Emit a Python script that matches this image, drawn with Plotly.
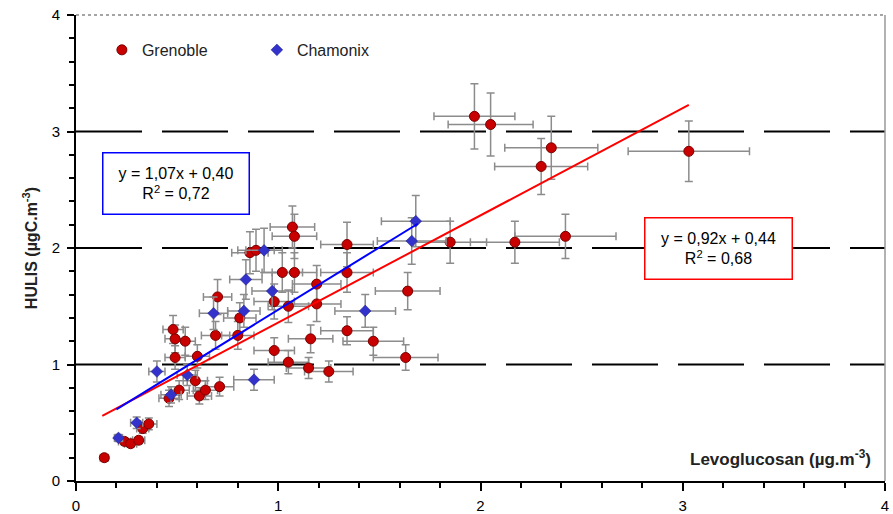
import plotly.graph_objects as go

# ---------------- data ----------------
gren_x = [0.14, 0.24, 0.27, 0.31, 0.33, 0.36, 0.46, 0.51, 0.61, 0.64,
          0.71, 0.59, 0.60, 0.49, 0.48, 0.49, 0.54, 0.69, 0.80, 0.81,
          0.70, 0.86, 0.89, 0.98, 1.02, 1.08, 1.05, 1.07, 1.08, 1.19,
          1.19, 1.34, 1.34, 0.98, 1.05, 1.15, 1.25, 1.16, 1.34, 1.47,
          1.63, 1.64, 1.85, 2.17, 2.42, 1.97, 2.05, 2.35, 2.30, 3.03]
gren_y = [0.20, 0.34, 0.32, 0.35, 0.45, 0.49, 0.71, 0.78, 0.73, 0.78,
          0.81, 0.86, 1.07, 1.06, 1.30, 1.22, 1.20, 1.25, 1.25, 1.40,
          1.58, 1.96, 1.98, 1.54, 1.79, 1.79, 1.50, 2.18, 2.10, 1.69,
          1.52, 2.03, 1.79, 1.12, 1.02, 0.97, 0.94, 1.22, 1.29, 1.20,
          1.06, 1.63, 2.05, 2.05, 2.10, 3.13, 3.06, 2.86, 2.70, 2.83]
gren_ex = [0.02, 0.03, 0.03, 0.03, 0.03, 0.04, 0.05, 0.05, 0.06, 0.06,
           0.07, 0.06, 0.06, 0.05, 0.05, 0.05, 0.05, 0.07, 0.08, 0.08,
           0.07, 0.09, 0.09, 0.10, 0.10, 0.11, 0.10, 0.11, 0.11, 0.12,
           0.12, 0.13, 0.13, 0.10, 0.10, 0.11, 0.12, 0.11, 0.13, 0.15,
           0.16, 0.16, 0.18, 0.22, 0.25, 0.20, 0.21, 0.23, 0.23, 0.30]
gren_ey = [0.02, 0.03, 0.03, 0.03, 0.04, 0.05, 0.07, 0.08, 0.07, 0.08,
           0.08, 0.09, 0.10, 0.10, 0.12, 0.12, 0.12, 0.12, 0.12, 0.13,
           0.15, 0.18, 0.18, 0.15, 0.17, 0.17, 0.14, 0.18, 0.19, 0.16,
           0.15, 0.19, 0.17, 0.11, 0.10, 0.09, 0.09, 0.12, 0.12, 0.12,
           0.11, 0.16, 0.18, 0.18, 0.19, 0.28, 0.27, 0.27, 0.24, 0.26]

cham_x = [0.21, 0.30, 0.40, 0.47, 0.55, 0.68, 0.83, 0.88, 0.84, 0.93,
          0.97, 1.43, 1.66, 1.68]
cham_y = [0.37, 0.50, 0.94, 0.74, 0.91, 1.44, 1.46, 0.87, 1.73, 1.98,
          1.63, 1.46, 2.06, 2.23]
cham_ex = [0.02, 0.03, 0.04, 0.05, 0.05, 0.07, 0.08, 0.10, 0.08, 0.09,
           0.10, 0.15, 0.17, 0.17]
cham_ey = [0.03, 0.05, 0.09, 0.07, 0.09, 0.14, 0.14, 0.09, 0.17, 0.19,
           0.16, 0.14, 0.20, 0.22]

# regression fits (slope, intercept) and x extent of each fitted line
fit_gren = (0.92, 0.44)
fit_gren_x = [0.13, 3.03]
fit_cham = (1.07, 0.40)
fit_cham_x = [0.20, 1.69]

eq_gren = "y = 0,92x + 0,44<br>R<sup>2</sup> = 0,68"
eq_cham = "y = 1,07x + 0,40<br>R<sup>2</sup> = 0,72"

major_ticks = [0, 1, 2, 3, 4]
grid_levels = [1, 2, 3]

FONT = "Liberation Sans, Arial, sans-serif"
RED = "#C80000"
BLUE = "#3333CC"
ERR = "#8C8C8C"

fig = go.Figure()

fig.add_trace(go.Scatter(
    x=gren_x, y=gren_y, mode="markers", name="Grenoble",
    marker=dict(color=RED, size=10, symbol="circle",
                line=dict(color="#7A0000", width=1)),
    error_x=dict(type="data", array=gren_ex, color=ERR, thickness=1.5, width=4),
    error_y=dict(type="data", array=gren_ey, color=ERR, thickness=1.5, width=4),
))
fig.add_trace(go.Scatter(
    x=cham_x, y=cham_y, mode="markers", name="Chamonix",
    marker=dict(color=BLUE, size=9, symbol="diamond",
                line=dict(color="#1A1A80", width=0.5)),
    error_x=dict(type="data", array=cham_ex, color=ERR, thickness=1.5, width=4),
    error_y=dict(type="data", array=cham_ey, color=ERR, thickness=1.5, width=4),
))

fig.add_trace(go.Scatter(
    x=fit_gren_x, y=[fit_gren[0] * v + fit_gren[1] for v in fit_gren_x],
    mode="lines", line=dict(color="#FF0000", width=2), showlegend=False,
    hoverinfo="skip"))
fig.add_trace(go.Scatter(
    x=fit_cham_x, y=[fit_cham[0] * v + fit_cham[1] for v in fit_cham_x],
    mode="lines", line=dict(color="#0000FF", width=2), showlegend=False,
    hoverinfo="skip"))

shapes = []
for lv in grid_levels:
    shapes.append(dict(type="line", xref="paper", x0=0, x1=1, yref="y", y0=lv, y1=lv,
                       line=dict(color="black", width=2, dash="66px,20px"), layer="below"))
# top and right frame
shapes.append(dict(type="line", xref="paper", yref="paper", x0=0, x1=1, y0=1, y1=1,
                   line=dict(color="#888888", width=1.5, dash="dot")))
shapes.append(dict(type="line", xref="paper", yref="paper", x0=1, x1=1, y0=0, y1=1,
                   line=dict(color="#999999", width=1.5)))

annotations = [
    dict(text=eq_cham, xref="paper", yref="paper", x=0.1242, y=0.638,
         xanchor="center", yanchor="middle",
         showarrow=False, font=dict(family=FONT, size=16, color="black"),
         bordercolor="#0000FF", borderwidth=1.5, bgcolor="white",
         width=143, height=58, borderpad=1),
    dict(text=eq_gren, xref="paper", yref="paper", x=0.7936, y=0.50,
         xanchor="center", yanchor="middle",
         showarrow=False, font=dict(family=FONT, size=16, color="black"),
         bordercolor="#FF0000", borderwidth=1.5, bgcolor="white",
         width=144, height=58, borderpad=1),
    dict(text="<b>Levoglucosan (µg.m<sup>-3</sup>)</b>", xref="paper", yref="paper",
         x=0.985, y=0.049, xanchor="right", yanchor="middle", showarrow=False,
         font=dict(family=FONT, size=17, color="#222222")),
]

fig.update_layout(
    width=893, height=514,
    margin=dict(l=76, r=8, t=15, b=33),
    paper_bgcolor="white", plot_bgcolor="white",
    font=dict(family=FONT, size=15, color="black"),
    shapes=shapes, annotations=annotations,
    legend=dict(orientation="h", x=0.032, y=0.925, xanchor="left", yanchor="middle",
                bgcolor="rgba(0,0,0,0)", font=dict(family=FONT, size=16, color="#222222"),
                entrywidth=110, entrywidthmode="pixels", itemwidth=30,
                title=None),
    showlegend=True,
    xaxis=dict(range=[0, 4], tickvals=major_ticks, ticks="outside", ticklen=8,
               tickwidth=1.5, tickcolor="black", showline=True, linecolor="black",
               linewidth=2, showgrid=False, zeroline=False, automargin=False,
               ticklabeloverflow="allow", ticklabelstandoff=2,
               minor=dict(dtick=0.2, ticks="outside", ticklen=5, tickwidth=1.5,
                          tickcolor="black", showgrid=False),
               tickfont=dict(family=FONT, size=15, color="black")),
    yaxis=dict(range=[0, 4], tickvals=major_ticks, ticks="outside", ticklen=7,
               tickwidth=1.5, tickcolor="black", showline=True, linecolor="black",
               linewidth=2, showgrid=False, zeroline=False, automargin=False,
               ticklabeloverflow="allow", ticklabelstandoff=4,
               minor=dict(dtick=0.2, ticks="outside", ticklen=5, tickwidth=1.5,
                          tickcolor="black", showgrid=False),
               tickfont=dict(family=FONT, size=15, color="black"),
               title=dict(text="<b>HULIS (µgC.m<sup>-3</sup>)</b>", standoff=10,
                          font=dict(family=FONT, size=16, color="#222222"))),
)

fig.write_html(
    "out.html",
    config={"displayModeBar": False},
    post_script="document.body.style.margin='0';document.body.style.overflow='hidden';",
)
